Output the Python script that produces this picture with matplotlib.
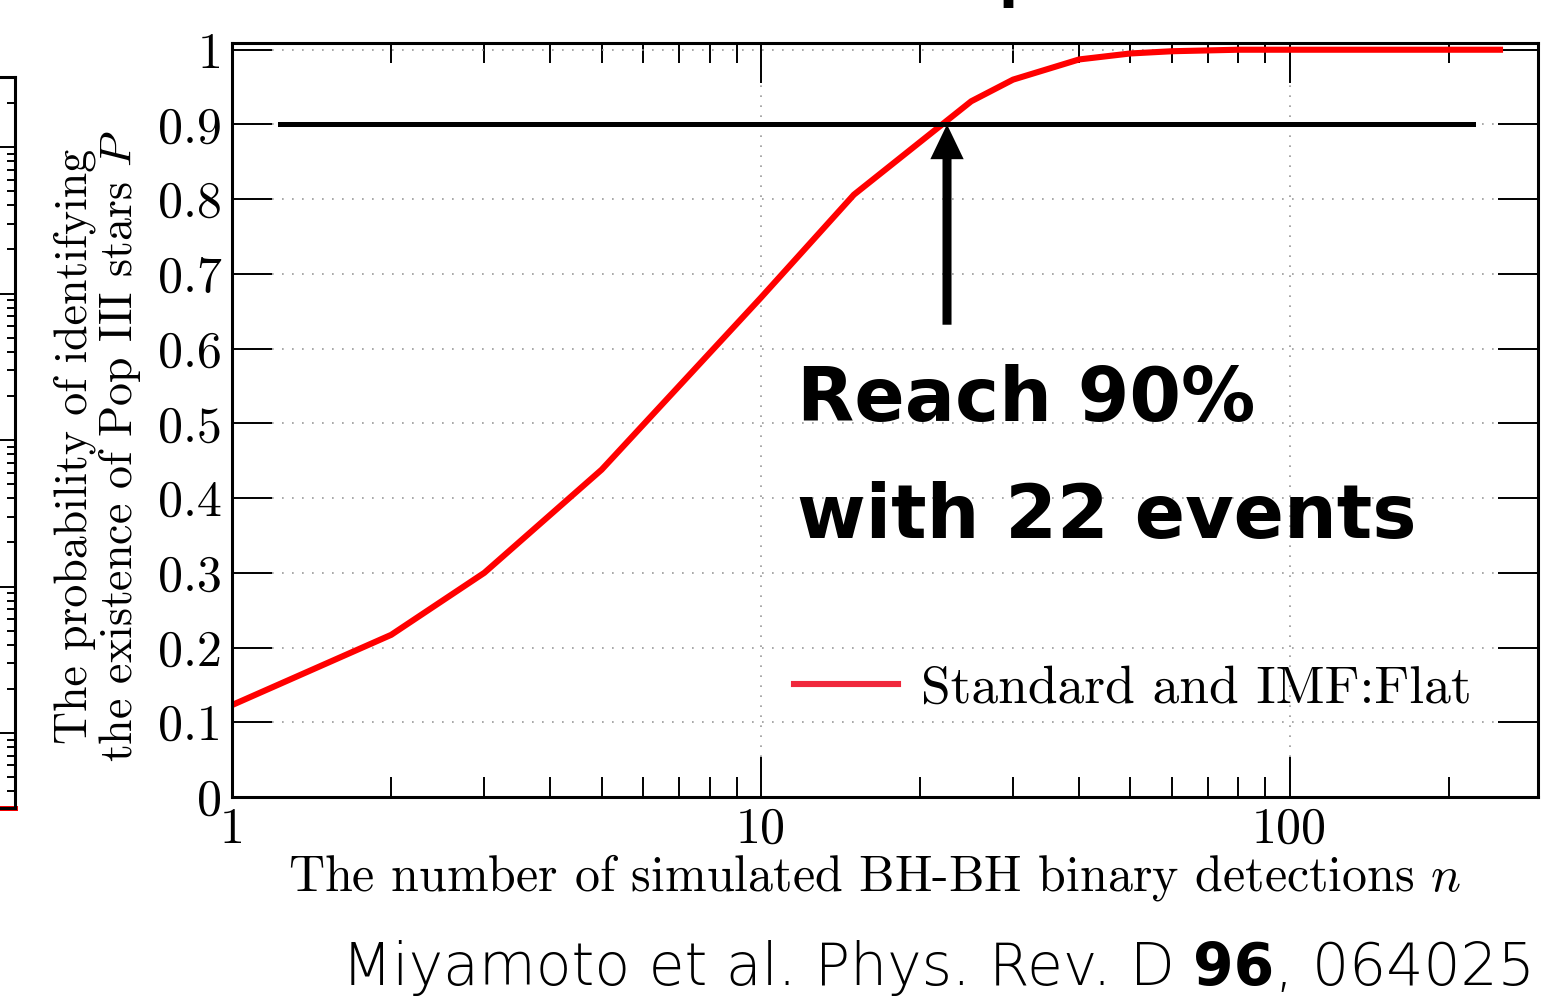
import numpy as np
import matplotlib
matplotlib.use('Agg')
import matplotlib.pyplot as plt
from matplotlib.lines import Line2D
from matplotlib.ticker import FixedLocator, NullFormatter, NullLocator, LogLocator

# datos de la curva
n_events = [1, 2, 3, 5, 10, 15, 25, 30, 40, 50, 60, 80, 100, 150, 200, 250]
prob = [0.123, 0.217, 0.300, 0.438, 0.668, 0.806, 0.931, 0.960,
        0.987, 0.995, 0.998, 1.0, 1.0, 1.0, 1.0, 1.0]
target_prob = 0.9
arrow_n = 22.5
hline_n = [1.23, 222]
arrow_tail = 0.632
xtick_vals = [1, 10, 100]
xtick_labels = ['1', '10', '100']
ytick_vals = [0, 0.1, 0.2, 0.3, 0.4, 0.5, 0.6, 0.7, 0.8, 0.9, 1.0]
ytick_labels = ['0', '0.1', '0.2', '0.3', '0.4', '0.5', '0.6', '0.7', '0.8', '0.9', '1']
legend_label = 'Standard and IMF:Flat'

# panel vecino cortado a la izquierda
side_x = [0, 1]
side_y = [10**-0.512, 10**-0.512]

plt.rcParams['font.family'] = 'serif'
plt.rcParams['font.serif'] = ['cmr10']
plt.rcParams['mathtext.fontset'] = 'cm'
plt.rcParams['axes.unicode_minus'] = False

W, H = 1545, 1000
fig = plt.figure(figsize=(W / 100, H / 100), dpi=100)

# panel izquierdo (solo se ve el borde)
ax0 = fig.add_axes([15 / W - 0.3, 192 / H, 0.3, 731 / H])
ax0.set_yscale('log')
ax0.set_ylim(10**-0.512, 10**4.478)
ax0.set_xlim(0, 1)
ax0.plot(side_x, side_y, color='#ff0000', lw=3.6, clip_on=False)
ax0.yaxis.set_major_locator(LogLocator(base=10))
ax0.yaxis.set_minor_locator(LogLocator(base=10, subs=np.arange(2, 10)))
ax0.tick_params(which='both', direction='in', left=False, right=True,
                labelleft=False, bottom=False, labelbottom=False, width=1.4)
ax0.tick_params(which='major', length=14)
ax0.tick_params(which='minor', length=5.5)
for s in ax0.spines.values():
    s.set_linewidth(2.2)

# panel principal
ax = fig.add_axes([232 / W, 203 / H, 1306 / W, 754 / H])
ax.set_xscale('log')
ax.set_xlim(1, 295)
ax.set_ylim(0, 1.009)
ax.set_axisbelow(True)

ax.plot(n_events, prob, color='#ff0000', lw=4.4, solid_joinstyle='miter')
ax.plot(hline_n, [target_prob, target_prob], color='k', lw=3.6)
ax.annotate('', xy=(arrow_n, target_prob), xytext=(arrow_n, arrow_tail),
            arrowprops=dict(arrowstyle='simple,head_length=2.5,head_width=2.4,tail_width=0.65',
                            mutation_scale=10, lw=0, fc='k', ec='k',
                            shrinkA=0, shrinkB=0))

ax.set_xticks(xtick_vals, xtick_labels)
ax.xaxis.set_minor_locator(FixedLocator([2, 3, 4, 5, 6, 7, 8, 9, 20, 30, 40, 50,
                                         60, 70, 80, 90, 200]))
ax.xaxis.set_minor_formatter(NullFormatter())
ax.set_yticks(ytick_vals, ytick_labels)
ax.yaxis.set_minor_locator(NullLocator())
ax.tick_params(which='both', direction='in', top=True, right=True, width=1.4)
ax.tick_params(which='major', length=29, labelsize=36)
ax.tick_params(axis='x', which='major', pad=7)
ax.tick_params(axis='y', which='major', pad=7)
ax.tick_params(which='minor', length=14.5)
for s in ax.spines.values():
    s.set_linewidth(2.2)

ax.grid(True, which='major', color='#999999', lw=1.2, ls=(0, (1, 5)))

ax.set_xlabel('The number of simulated BH-BH binary detections $n$', fontsize=36)
ax.xaxis.set_label_coords(0.492, -0.073)
ax.set_ylabel('The probability of identifying\nthe existence of Pop III stars $P$',
              fontsize=33, linespacing=1.0)
ax.yaxis.set_label_coords(-0.068, 0.4655)

handle = Line2D([], [], color='#f0283c', lw=4.4)
ax.legend([handle], [legend_label], loc='center right', bbox_to_anchor=(0.949, 0.143),
          frameon=False, fontsize=38.5, handlelength=1.95, handletextpad=0.43,
          borderpad=0, borderaxespad=0)

# texto grande
sans = ['DejaVu Sans']
fig.text(797 / W, 1 - 421 / H, 'Reach 90%', fontsize=53.5, fontweight='bold',
         family=sans, va='baseline', ha='left')
fig.text(797 / W, 1 - 538 / H, 'with 22 events', fontsize=53.5, fontweight='bold',
         family=sans, va='baseline', ha='left')

# titulo cortado arriba
fig.text(998 / W, 1.0045, 'p', fontsize=40, fontweight='bold', family=sans,
         va='baseline', ha='left')

# referencia abajo
fs_ref = 42
y_ref = 1 - 985 / H
t1 = fig.text(342 / W, y_ref, 'Miyamoto et al. Phys. Rev. D ', fontsize=fs_ref,
              family=sans, fontweight='light', va='baseline', ha='left')
fig.canvas.draw()
r = fig.canvas.get_renderer()
bb = t1.get_window_extent(r)
t2 = fig.text(bb.x1 / W, y_ref, '96', fontsize=fs_ref, fontweight='bold',
              family=sans, va='baseline', ha='left')
bb = t2.get_window_extent(r)
fig.text(bb.x1 / W, y_ref, ', 064025', fontsize=fs_ref, family=sans,
         fontweight='light', va='baseline', ha='left')

fig.savefig('out.png', dpi=100)
